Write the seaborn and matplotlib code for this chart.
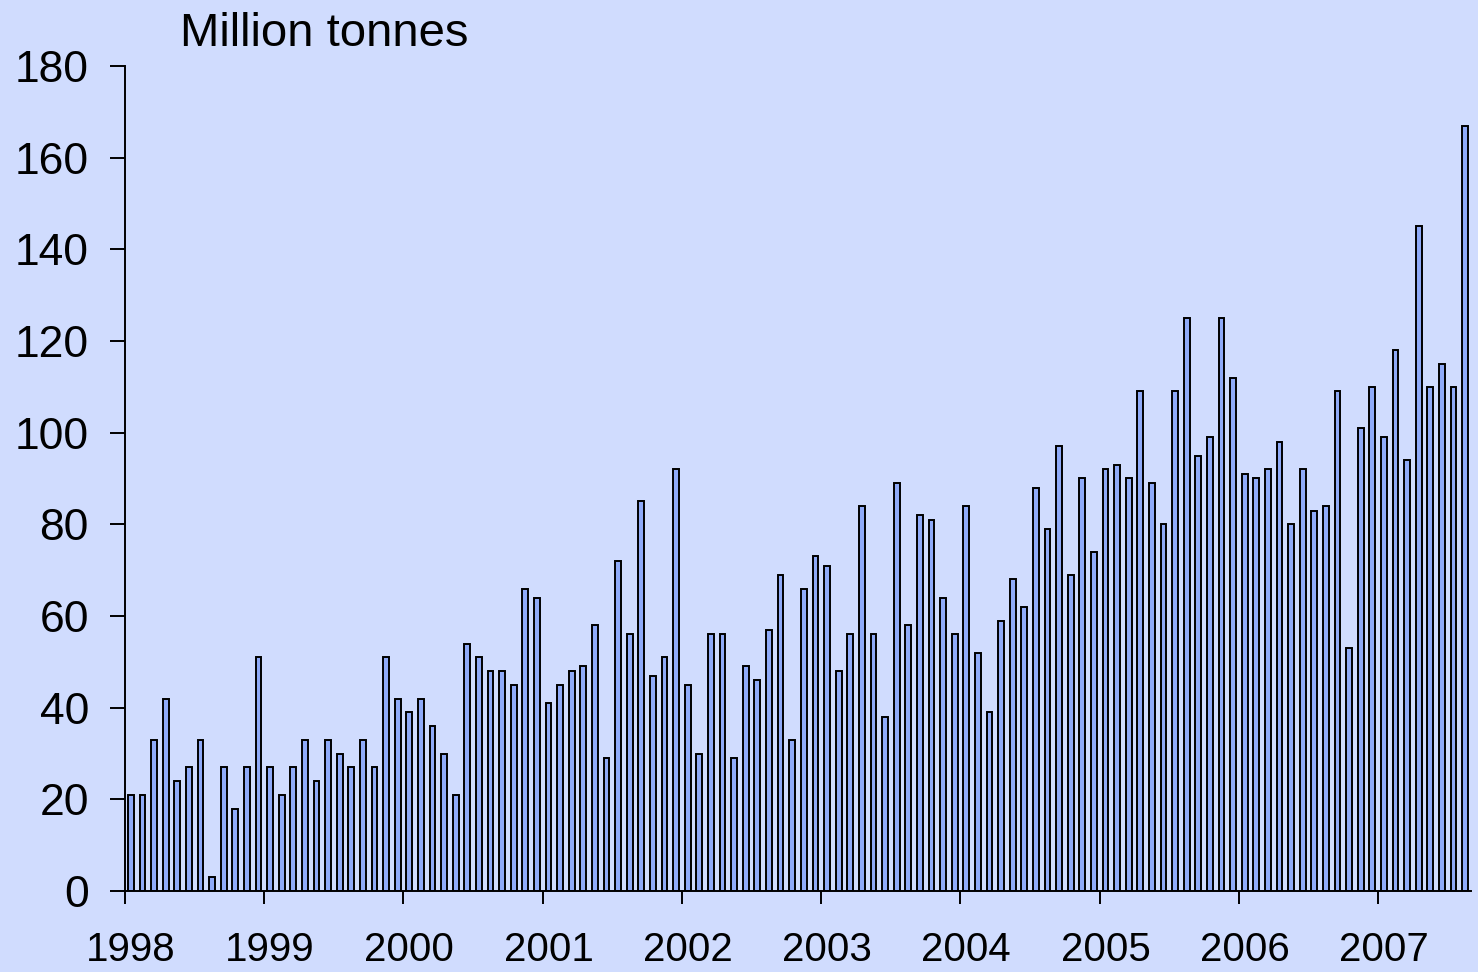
import pandas as pd
import matplotlib
matplotlib.use('Agg')
import matplotlib.pyplot as plt
import seaborn as sns

# Valores mensuales (millones de toneladas), ene 1998 - ago 2007
v1998 = [21, 21, 33, 42, 24, 27, 33, 3, 27, 18, 27, 51]
v1999 = [27, 21, 27, 33, 24, 33, 30, 27, 33, 27, 51, 42]
v2000 = [39, 42, 36, 30, 21, 54, 51, 48, 48, 45, 66, 64]
v2001 = [41, 45, 48, 49, 58, 29, 72, 56, 85, 47, 51, 92]
v2002 = [45, 30, 56, 56, 29, 49, 46, 57, 69, 33, 66, 73]
v2003 = [71, 48, 56, 84, 56, 38, 89, 58, 82, 81, 64, 56]
v2004 = [84, 52, 39, 59, 68, 62, 88, 79, 97, 69, 90, 74]
v2005 = [92, 93, 90, 109, 89, 80, 109, 125, 95, 99, 125, 112]
v2006 = [91, 90, 92, 98, 80, 92, 83, 84, 109, 53, 101, 110]
v2007 = [99, 118, 94, 145, 110, 115, 110, 167]

years = ['1998', '1999', '2000', '2001', '2002', '2003', '2004', '2005', '2006', '2007']
yticks = [0, 20, 40, 60, 80, 100, 120, 140, 160, 180]

values = v1998 + v1999 + v2000 + v2001 + v2002 + v2003 + v2004 + v2005 + v2006 + v2007
months = [f'{y}-{m:02d}' for y in years for m in range(1, 13)][:len(values)]
df = pd.DataFrame({'month': months, 'value': values})

bg = '#D0DCFE'
sns.set_style('ticks')
plt.rcParams['font.family'] = ['Liberation Sans', 'DejaVu Sans']
plt.rcParams['text.color'] = 'black'
plt.rcParams['xtick.color'] = 'black'
plt.rcParams['ytick.color'] = 'black'

fig = plt.figure(figsize=(14.78, 9.72), dpi=100, facecolor=bg)
ax = fig.add_axes([125 / 1478, 81 / 972, 1346 / 1478, 825 / 972])
ax.set_facecolor(bg)

sns.barplot(data=df, x='month', y='value', order=months, color='#8FAAF8',
            saturation=1, width=0.5, edgecolor='black', linewidth=1.4, ax=ax)

ax.set_xlim(-0.5, len(values) - 0.5)
ax.set_ylim(0, 180)
ax.set_yticks(yticks)
ax.set_yticklabels([str(t) for t in yticks], fontsize=32)
ax.tick_params(axis='y', length=11, width=1.4, pad=15, colors='black')

# etiquetas de año centradas en enero, marcas en el borde del mes
ax.set_xticks([12 * i for i in range(len(years))])
ax.set_xticklabels(years, fontsize=29)
ax.tick_params(axis='x', which='major', length=0, pad=29, colors='black')
ax.set_xticks([12 * i - 0.5 for i in range(len(years))], minor=True)
ax.tick_params(axis='x', which='minor', length=9.5, width=1.4, color='black')

ax.set_xlabel('')
ax.set_ylabel('')
for s in ['top', 'right']:
    ax.spines[s].set_visible(False)
for s in ['left', 'bottom']:
    ax.spines[s].set_color('black')
    ax.spines[s].set_linewidth(1.4)

fig.text(180 / 1478, 1 - 46 / 972, 'Million tonnes', fontsize=34, va='baseline', ha='left', color='black')

plt.savefig('out.png', dpi=100, facecolor=bg)
plt.close()
